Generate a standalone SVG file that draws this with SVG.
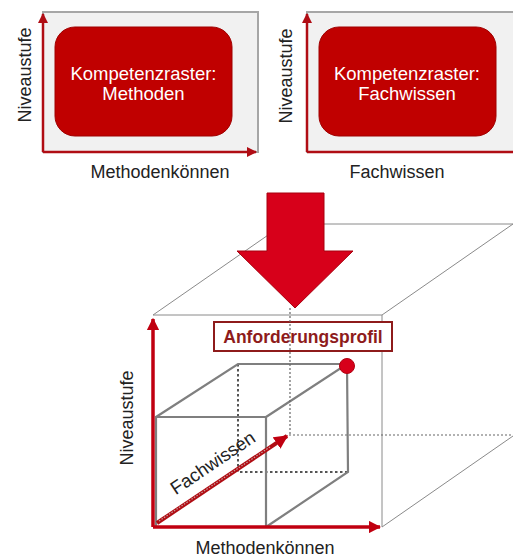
<svg xmlns="http://www.w3.org/2000/svg" width="513" height="558" viewBox="0 0 513 558">
<style>
.t{font-family:"Liberation Sans",Arial,sans-serif;fill:#222;font-size:18px}
.w{font-family:"Liberation Sans",Arial,sans-serif;fill:#fff;font-size:18.5px;text-anchor:middle}
.ax{stroke:#b00d14;stroke-width:2.5;fill:none}
.thin{stroke:#8a8a8a;stroke-width:1;fill:none}
.cube{stroke:#7f7f7f;stroke-width:2.2;fill:none}
.dot{stroke:#666;stroke-width:1.2;fill:none;stroke-dasharray:2 2}
.dot2{stroke:#555;stroke-width:2;fill:none;stroke-dasharray:2.5 2.5}
</style>
<defs>
<marker id="ah" viewBox="0 0 10 10" refX="9" refY="5" markerWidth="4" markerHeight="4" orient="auto" markerUnits="strokeWidth">
<path d="M0,0 L10,5 L0,10 z" fill="#b00d14"/>
</marker>
<marker id="ah2" viewBox="0 0 10 10" refX="9" refY="5" markerWidth="3.5" markerHeight="3.5" orient="auto" markerUnits="strokeWidth">
<path d="M0,0 L10,5 L0,10 z" fill="#c00010"/>
</marker>
</defs>
<rect width="513" height="558" fill="#fff"/>

<g id="panel-methoden">
<rect x="43" y="12" width="215" height="140" fill="#f1f1f1" stroke="#a6a6a6" stroke-width="2"/>
<rect x="55" y="27" width="177" height="109" rx="20" fill="#c00000" stroke="#a00000" stroke-width="1"/>
<text class="w" x="143.5" y="80">Kompetenzraster:</text>
<text class="w" x="143.5" y="100">Methoden</text>
<text class="t" transform="translate(31,75) rotate(-90)" text-anchor="middle">Niveaustufe</text>
<text class="t" x="160" y="178" text-anchor="middle">Methodenkönnen</text>
</g>

<g id="panel-fachwissen">
<rect x="307" y="12" width="210" height="140" fill="#f1f1f1" stroke="#a6a6a6" stroke-width="2"/>
<rect x="319" y="27" width="177" height="109" rx="20" fill="#c00000" stroke="#a00000" stroke-width="1"/>
<text class="w" x="407" y="80">Kompetenzraster:</text>
<text class="w" x="407" y="100">Fachwissen</text>
<text class="t" transform="translate(292,76) rotate(-90)" text-anchor="middle">Niveaustufe</text>
<text class="t" x="397" y="178" text-anchor="middle">Fachwissen</text>
</g>

<g id="big-box">
<path class="thin" d="M153,315 L284,224 L513,224 M382,315 L513,224 M153,315 L382,315 L382,527 M382,527 L513,436"/>
<path class="dot" d="M289,435 L513,435"/>
</g>

<g id="big-arrow">
<path d="M267,193 L324,193 L324,251 L353,251 L295,308 L237,251 L267,251 z" fill="#d7001a" stroke="#a8000f" stroke-width="1"/>
</g>

<g id="small-cube">
<path class="dot2" d="M238,364 L238,472 L348,472"/>
<path class="cube" d="M156,417 L266,417 L266,527 L156,527 z M156,417 L238,364 L347,364 M266,417 L347,364 L348,472 L266,527"/>
<circle cx="347" cy="366" r="7.5" fill="#d7001a" stroke="#b00010" stroke-width="1"/>
</g>

<g id="label-anforderungsprofil">
<rect x="214" y="322" width="178" height="29" fill="#fff" stroke="#8e1b1b" stroke-width="2"/>
<text x="303" y="342.5" text-anchor="middle" style="font-family:'Liberation Sans',Arial,sans-serif;font-weight:bold;font-size:17.5px;fill:#8e1b1b">Anforderungsprofil</text>
</g>

<g id="connectors">
<path class="ax" d="M43,152 L43,14" marker-end="url(#ah)"/>
<path class="ax" d="M43,152 L256,152" marker-end="url(#ah)"/>
<path class="ax" d="M307,152 L307,14" marker-end="url(#ah)"/>
<path class="ax" d="M307,152 L513,152"/>
<path class="dot" d="M290,308 L290,435"/>
<path d="M153,527 L153,319" stroke="#c00010" stroke-width="3.5" fill="none" marker-end="url(#ah2)"/>
<path d="M153,527 L380,527" stroke="#c00010" stroke-width="3.5" fill="none" marker-end="url(#ah2)"/>
<path d="M157,523 L287,436" stroke="#b00d14" stroke-width="4" fill="none" marker-end="url(#ah2)"/>
<path d="M159,521 L270,447" stroke="#c8a0a0" stroke-width="1.2" fill="none" stroke-dasharray="1.5 1.5"/>
</g>

<g id="bottom-labels">
<text class="t" transform="translate(133,418) rotate(-90)" text-anchor="middle">Niveaustufe</text>
<text class="t" x="265" y="554" text-anchor="middle">Methodenkönnen</text>
<text class="t" transform="translate(213,463) rotate(-34)" text-anchor="middle" y="6" style="font-size:18.5px">Fachwissen</text>
</g>
</svg>
